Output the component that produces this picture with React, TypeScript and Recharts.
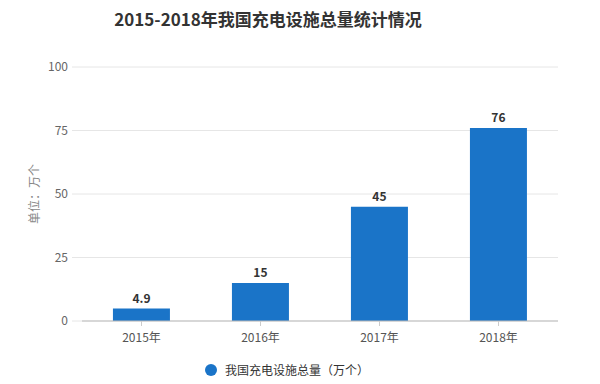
import React from "react";
import { BarChart, Bar, XAxis, YAxis, CartesianGrid, Legend, LabelList } from "recharts";

const YEARS = ["2015年", "2016年", "2017年", "2018年"];
const TOTALS = [4.9, 15, 45, 76];
const Y_TICKS = [0, 25, 50, 75, 100];
const SERIES_NAME = "我国充电设施总量（万个）";

const FONT = "'Noto Sans CJK SC', 'Noto Sans', sans-serif";
const BAR_COLOR = "#1a74c8";

const data = YEARS.map((year, i) => ({ year, total: TOTALS[i] }));

function LegendContent() {
  return (
    <div style={{ display: "flex", justifyContent: "center", alignItems: "center", fontFamily: FONT, fontSize: 12, color: "#333", paddingTop: 12, paddingLeft: 16 }}>
      <span style={{ width: 12, height: 12, borderRadius: "50%", background: BAR_COLOR, display: "inline-block", marginRight: 8 }} />
      {SERIES_NAME}
    </div>
  );
}

export default function App() {
  return (
    <div style={{ position: "absolute", left: 0, top: 0, width: 600, height: 384, background: "#fff" }}>
      <div style={{ position: "absolute", top: 6, left: 0, width: 536, textAlign: "center", fontFamily: FONT, fontSize: 17, fontWeight: 700, color: "#333" }}>
        2015-2018年我国充电设施总量统计情况
      </div>
      <BarChart width={600} height={384} data={data} margin={{ top: 67, right: 42, bottom: 0, left: 0 }} barCategoryGap="26%">
        <CartesianGrid vertical={false} stroke="#e6e6e6" />
        <XAxis
          dataKey="year"
          height={28}
          tick={{ fontSize: 12, fill: "#555", fontFamily: FONT }}
          tickLine={{ stroke: "#ccc" }}
          axisLine={{ stroke: "#bbb" }}
          tickSize={5}
          tickMargin={7}
        />
        <YAxis
          width={82}
          domain={[0, 100]}
          ticks={Y_TICKS}
          tick={{ fontSize: 12, fill: "#666", fontFamily: FONT }}
          axisLine={false}
          tickLine={{ stroke: "#e6e6e6" }}
          tickSize={10}
          tickMargin={4}
          label={{ value: "单位：万个", angle: -90, position: "insideLeft", offset: 35, style: { fontSize: 12, fill: "#888", fontFamily: FONT, textAnchor: "middle" } }}
        />
        <Legend verticalAlign="bottom" height={35} content={<LegendContent />} />
        <Bar dataKey="total" name={SERIES_NAME} fill={BAR_COLOR} isAnimationActive={false}>
          <LabelList dataKey="total" position="top" offset={6} style={{ fontSize: 12, fontWeight: 700, fill: "#333", fontFamily: FONT }} />
        </Bar>
      </BarChart>
    </div>
  );
}
